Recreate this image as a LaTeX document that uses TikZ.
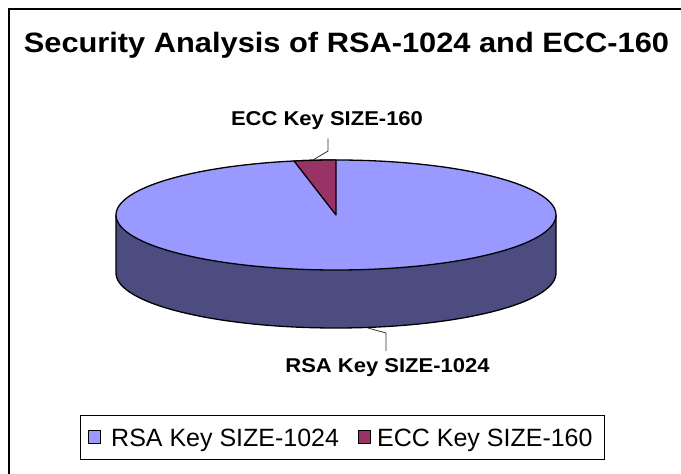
\documentclass[tikz,border=0pt]{standalone}
\usepackage{fontspec}
\setmainfont{Liberation Sans}
\newfontfamily\wideboldfont{Liberation Sans}[FakeStretch=1.1]
\usetikzlibrary{positioning,calc}
\definecolor{cRsa}{HTML}{9999FF}
\definecolor{cRsaSide}{HTML}{4C4C80}
\definecolor{cEcc}{HTML}{993366}
\tikzset{
  ttl/.style  = {font=\wideboldfont\bfseries\fontsize{28}{32}\selectfont, anchor=base},
  plbl/.style = {font=\wideboldfont\bfseries\fontsize{20}{23}\selectfont, anchor=base, inner sep=8pt},
  lgd/.style  = {font=\fontsize{25}{28}\selectfont, anchor=base west, inner sep=0pt},
  mk/.style   = {draw=black, line width=1.2pt, minimum size=12.5pt, inner sep=0pt},
  ld/.style   = {draw=black!80, line width=0.8pt},
  pie/.style  = {draw=black, line width=1.3pt, line join=round},
}

\begin{document}
\begin{tikzpicture}[x=1pt, y=1pt]
  \useasboundingbox (0,0) rectangle (681,474);
  % chart frame, cut off on the right and at the bottom
  \draw[line width=2pt] (9,-20) -- (9,465) -- (700,465);
  \node[ttl] (title) at (346.5,421) {Security Analysis of RSA-1024 and ECC-160};
  % the pie: side wall, top face, ECC slice
  \fill[cRsaSide] (116,259) -- (116,201)
    arc[start angle=180, end angle=360, x radius=220, y radius=55] -- (556,259)
    arc[start angle=0, end angle=-180, x radius=220, y radius=55] -- cycle;
  \draw[pie] (116,259) -- (116,201)
    arc[start angle=180, end angle=360, x radius=220, y radius=55] -- (556,259);
  \filldraw[pie, fill=cRsa] (336,259) ellipse[x radius=220, y radius=55];
  \filldraw[pie, fill=cEcc] (336,259) -- ++(0,55)
    arc[start angle=90, end angle=101, x radius=220, y radius=55] -- cycle;
  % slice labels
  \coordinate (eccpt) at (313,314);
  \coordinate (eccbend) at (328,323);
  \node[plbl] (ecclbl) at (327,348) {ECC Key SIZE-160};
  \draw[ld] (eccpt) -- (eccbend) -- (eccbend |- ecclbl.south);
  \coordinate (rsapt) at (368,146);
  \coordinate (rsabend) at (386,141);
  \node[plbl] (rsalbl) at (387.5,101) {RSA Key SIZE-1024};
  \draw[ld] (rsapt) -- (rsabend) -- (rsabend |- rsalbl.north);
  % legend
  \node[draw=black, line width=0.8pt, minimum width=524pt, minimum height=44pt,
        anchor=south west, inner sep=0pt] (legend) at (80,14) {};
  \node[mk, fill=cRsa] (rsamk) at (94.5,37) {};
  \node[lgd] (rsalgd) at (111,27) {RSA Key SIZE-1024};
  \node[mk, fill=cEcc] (eccmk) at (364.5,37) {};
  \node[lgd] (ecclgd) at (377,27) {ECC Key SIZE-160};
\end{tikzpicture}
\end{document}
